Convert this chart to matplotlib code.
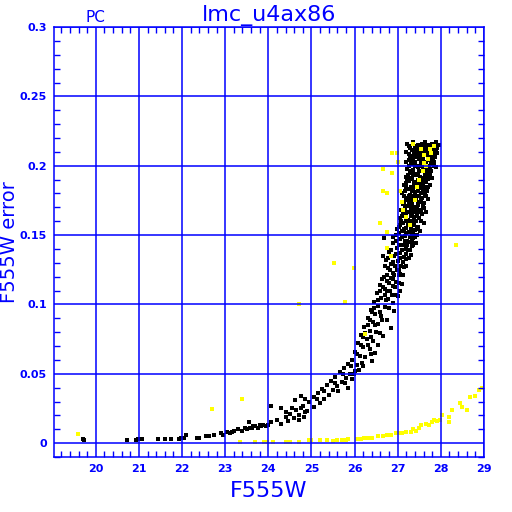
import matplotlib
matplotlib.use("Agg")
import matplotlib.pyplot as plt
from matplotlib.ticker import MultipleLocator, FixedLocator, FixedFormatter

# ---------------- data ----------------
title = "lmc_u4ax86"
corner_label = "PC"
x_label = "F555W"
y_label = "F555W error"

x_ticks = [20, 21, 22, 23, 24, 25, 26, 27, 28, 29]
x_tick_labels = ["20", "21", "22", "23", "24", "25", "26", "27", "28", "29"]
y_ticks = [0, 0.05, 0.1, 0.15, 0.2, 0.25, 0.3]
y_tick_labels = ["0", "0.05", "0.1", "0.15", "0.2", "0.25", "0.3"]

# black points (magnitude, error)
black_pts = [
    (27.22, 0.216), (27.35, 0.217), (27.48, 0.215), (27.56, 0.216), (27.63, 0.217), (27.72, 0.215), (27.80, 0.216), (27.88, 0.217), (27.95, 0.215),
    (27.28, 0.213), (27.42, 0.212), (27.52, 0.214), (27.60, 0.213), (27.68, 0.212), (27.76, 0.213), (27.85, 0.212), (27.92, 0.213),
    (27.20, 0.210), (27.38, 0.209), (27.46, 0.211), (27.58, 0.210), (27.66, 0.209), (27.74, 0.210), (27.82, 0.211), (27.90, 0.209),
    (27.32, 0.207), (27.44, 0.206), (27.54, 0.207), (27.62, 0.208), (27.70, 0.206), (27.79, 0.207), (27.87, 0.206),
    (27.25, 0.204), (27.40, 0.203), (27.50, 0.205), (27.57, 0.204), (27.65, 0.203), (27.73, 0.204), (27.84, 0.203),
    (27.30, 0.201), (27.45, 0.200), (27.53, 0.202), (27.61, 0.201), (27.69, 0.200), (27.78, 0.201),
    (27.22, 0.198), (27.36, 0.197), (27.48, 0.199), (27.59, 0.198), (27.67, 0.197), (27.75, 0.198), (27.88, 0.199),
    (27.33, 0.195), (27.43, 0.194), (27.55, 0.196), (27.63, 0.195), (27.72, 0.194),
    (27.18, 0.192), (27.29, 0.191), (27.40, 0.193), (27.51, 0.192), (27.60, 0.191), (27.68, 0.192), (27.80, 0.191),
    (27.27, 0.189), (27.38, 0.188), (27.47, 0.190), (27.56, 0.189), (27.65, 0.188),
    (27.15, 0.186), (27.32, 0.185), (27.44, 0.187), (27.52, 0.186), (27.62, 0.185), (27.74, 0.186),
    (27.24, 0.183), (27.36, 0.182), (27.49, 0.184), (27.58, 0.183), (27.67, 0.182),
    (27.10, 0.180), (27.28, 0.179), (27.41, 0.181), (27.54, 0.180), (27.63, 0.179),
    (27.20, 0.177), (27.34, 0.176), (27.46, 0.178), (27.57, 0.177), (27.70, 0.176),
    (27.14, 0.174), (27.30, 0.173), (27.43, 0.175), (27.52, 0.174), (27.61, 0.173),
    (27.22, 0.171), (27.37, 0.170), (27.48, 0.172), (27.58, 0.171),
    (27.08, 0.168), (27.26, 0.167), (27.40, 0.169), (27.53, 0.168), (27.66, 0.167),
    (27.18, 0.165), (27.33, 0.164), (27.45, 0.166), (27.56, 0.165),
    (27.05, 0.162), (27.24, 0.161), (27.38, 0.163), (27.50, 0.162),
    (27.12, 0.159), (27.29, 0.158), (27.42, 0.160), (27.60, 0.159),
    (27.02, 0.156), (27.20, 0.155), (27.35, 0.157), (27.47, 0.156),
    (27.10, 0.153), (27.26, 0.152), (27.40, 0.154), (27.52, 0.153),
    (26.95, 0.150), (27.16, 0.149), (27.32, 0.151), (27.44, 0.150),
    (27.05, 0.147), (27.22, 0.146), (27.36, 0.148), (26.68, 0.148),
    (26.88, 0.144), (27.12, 0.143), (27.28, 0.145), (27.42, 0.144),
    (26.98, 0.141), (27.18, 0.140), (27.33, 0.142),
    (26.80, 0.138), (27.06, 0.137), (27.24, 0.139),
    (26.92, 0.135), (27.14, 0.134), (27.30, 0.136), (26.66, 0.135),
    (26.72, 0.132), (27.00, 0.131), (27.20, 0.133),
    (26.85, 0.129), (27.08, 0.128),
    (26.78, 0.126), (26.98, 0.125), (27.15, 0.127),
    (26.90, 0.123), (27.06, 0.122),
    (26.68, 0.120), (26.84, 0.119), (27.02, 0.121),
    (26.75, 0.117), (26.96, 0.116),
    (26.60, 0.114), (26.88, 0.113), (27.10, 0.115),
    (26.70, 0.111), (26.82, 0.110),
    (26.52, 0.108), (26.95, 0.107),
    (26.62, 0.105), (26.78, 0.104), (27.00, 0.106),
    (26.45, 0.102), (26.88, 0.101),
    (26.55, 0.099), (26.70, 0.098),
    (26.38, 0.096), (26.92, 0.095),
    (26.48, 0.093), (26.62, 0.092),
    (26.30, 0.090), (26.75, 0.089),
    (26.42, 0.087), (26.55, 0.086),
    (26.22, 0.084), (26.85, 0.083),
    (26.35, 0.081), (26.50, 0.080),
    (26.15, 0.078), (26.65, 0.077),
    (26.28, 0.075), (26.42, 0.074),
    (26.08, 0.072), (26.55, 0.071),
    (26.20, 0.069), (26.35, 0.068),
    (26.00, 0.066), (26.48, 0.065),
    (26.12, 0.063), (26.25, 0.062),
    (25.95, 0.060), (26.40, 0.059),
    (25.85, 0.057), (26.05, 0.056), (26.18, 0.058),
    (25.75, 0.054), (26.10, 0.053),
    (25.65, 0.051), (25.90, 0.050), (26.02, 0.052),
    (25.55, 0.048), (25.80, 0.047),
    (25.45, 0.045), (25.70, 0.044), (25.95, 0.046),
    (25.35, 0.042), (25.60, 0.041),
    (25.25, 0.039), (25.50, 0.038), (25.85, 0.040),
    (25.15, 0.036), (25.40, 0.035),
    (25.05, 0.033), (25.30, 0.032), (24.75, 0.034),
    (24.95, 0.030), (25.20, 0.029), (24.62, 0.031),
    (24.80, 0.027), (25.05, 0.026), (24.05, 0.027),
    (24.65, 0.024), (24.90, 0.023), (24.30, 0.025),
    (24.50, 0.021), (24.72, 0.020),
    (24.40, 0.019), (24.60, 0.018), (24.82, 0.019),
    (24.20, 0.017), (24.45, 0.016), (24.70, 0.017),
    (24.05, 0.015), (24.30, 0.014), (23.55, 0.015),
    (23.80, 0.013), (24.00, 0.013), (23.70, 0.012), (23.88, 0.013), (23.95, 0.012),
    (23.65, 0.012), (23.75, 0.011), (23.82, 0.012), (23.58, 0.011),
    (23.45, 0.011), (23.50, 0.010), (23.62, 0.011),
    (23.30, 0.010), (23.40, 0.009),
    (23.20, 0.009), (23.15, 0.008),
    (23.05, 0.008), (23.10, 0.007),
    (22.90, 0.007), (22.95, 0.006),
    (22.75, 0.006), (22.08, 0.006),
    (22.55, 0.005), (22.62, 0.005),
    (22.35, 0.004), (22.40, 0.004), (22.05, 0.004), (21.98, 0.004),
    (21.93, 0.003), (21.75, 0.003), (21.60, 0.003), (21.45, 0.003), (21.06, 0.003), (20.98, 0.003), (19.70, 0.003),
    (20.93, 0.002), (20.72, 0.002), (19.72, 0.002),
    # additional points in the dense faint-end cluster
    (27.25, 0.2145), (27.40, 0.2145), (27.52, 0.2145), (27.66, 0.2145), (27.78, 0.2145), (27.91, 0.2145),
    (27.32, 0.2115), (27.50, 0.2115), (27.64, 0.2115), (27.80, 0.2115), (27.88, 0.2115),
    (27.26, 0.2085), (27.40, 0.2085), (27.50, 0.2085), (27.70, 0.2085), (27.84, 0.2085),
    (27.28, 0.2055), (27.36, 0.2055), (27.58, 0.2055), (27.75, 0.2055), (27.82, 0.2055),
    (27.20, 0.2025), (27.35, 0.2025), (27.55, 0.2025), (27.64, 0.2025), (27.80, 0.2025),
    (27.26, 0.1995), (27.40, 0.1995), (27.57, 0.1995), (27.72, 0.1995), (27.84, 0.1995),
    (27.28, 0.1965), (27.50, 0.1965), (27.60, 0.1965), (27.78, 0.1965),
    (27.24, 0.1935), (27.36, 0.1935), (27.46, 0.1935), (27.64, 0.1935), (27.74, 0.1935),
    (27.22, 0.1905), (27.34, 0.1905), (27.52, 0.1905), (27.70, 0.1905),
    (27.20, 0.1875), (27.38, 0.1875), (27.48, 0.1875), (27.58, 0.1875),
    (27.18, 0.1845), (27.30, 0.1845), (27.40, 0.1845), (27.54, 0.1845), (27.70, 0.1845),
    (27.16, 0.1815), (27.32, 0.1815), (27.46, 0.1815), (27.60, 0.1815),
    (27.14, 0.1785), (27.25, 0.1785), (27.38, 0.1785), (27.50, 0.1785), (27.66, 0.1785),
    (27.24, 0.1755), (27.40, 0.1755), (27.55, 0.1755),
    (27.12, 0.1725), (27.26, 0.1725), (27.34, 0.1725), (27.46, 0.1725),
    (27.16, 0.1695), (27.30, 0.1695), (27.44, 0.1695), (27.62, 0.1695),
    (27.12, 0.1665), (27.22, 0.1665), (27.36, 0.1665), (27.50, 0.1665),
    (27.10, 0.1635), (27.30, 0.1635), (27.44, 0.1635),
    (27.08, 0.1605), (27.18, 0.1605), (27.34, 0.1605), (27.55, 0.1605),
    (27.06, 0.1575), (27.24, 0.1575), (27.38, 0.1575),
    (26.98, 0.1545), (27.14, 0.1545), (27.30, 0.1545), (27.45, 0.1545),
    (27.04, 0.1515), (27.20, 0.1515), (27.36, 0.1515),
    (26.90, 0.1485), (27.10, 0.1485), (27.28, 0.1485), (27.40, 0.1485),
    (26.95, 0.1455), (27.16, 0.1455), (27.32, 0.1455),
    (27.04, 0.1425), (27.22, 0.1425), (27.36, 0.1425),
    (26.85, 0.1395), (27.10, 0.1395), (27.28, 0.1395),
    (26.96, 0.1365), (27.20, 0.1365),
    (26.78, 0.1335), (27.06, 0.1335), (27.26, 0.1335),
    (26.90, 0.1305), (27.12, 0.1305),
    (26.70, 0.1275), (26.94, 0.1275), (27.18, 0.1275),
    (26.82, 0.1245), (27.02, 0.1245),
    (26.76, 0.1215), (26.92, 0.1215), (27.12, 0.1215),
    (26.64, 0.1185), (26.90, 0.1185),
    (26.80, 0.1155), (27.04, 0.1155),
    (26.66, 0.1125), (26.94, 0.1125),
    (26.58, 0.1095), (26.76, 0.1095), (27.05, 0.1095),
    (26.70, 0.1065), (26.86, 0.1065),
    (26.54, 0.1035), (26.72, 0.1035),
    (26.46, 0.0975), (26.80, 0.0975),
    (26.58, 0.0945), (26.40, 0.0945),
    (26.36, 0.0885), (26.64, 0.0885),
    (26.30, 0.0855), (26.48, 0.0855),
    (26.25, 0.0795), (26.58, 0.0795),
    (26.20, 0.0765), (26.38, 0.0765),
    (26.14, 0.0705), (26.30, 0.0705),
    (26.05, 0.0645), (26.38, 0.0645),
    (25.92, 0.0555), (26.20, 0.0555),
    (25.72, 0.0495), (25.98, 0.0495),
    (25.55, 0.0435), (25.78, 0.0435),
    (25.30, 0.0375), (25.62, 0.0375),
    (25.12, 0.0315), (24.85, 0.0315),
    (24.75, 0.0255), (24.55, 0.0255),
    (24.40, 0.0225), (24.85, 0.0225),
]

# yellow points (magnitude, error)
yellow_pts = [
    (23.35, 0.001), (23.70, 0.001), (23.90, 0.001), (23.97, 0.001), (24.10, 0.001), (24.40, 0.001),
    (24.50, 0.001), (24.70, 0.001), (24.95, 0.002), (25.00, 0.002), (25.20, 0.002), (25.35, 0.002),
    (25.50, 0.0015), (25.60, 0.002), (25.70, 0.002), (25.80, 0.002), (25.85, 0.003), (26.05, 0.003),
    (26.10, 0.003), (26.15, 0.003), (26.22, 0.004), (26.30, 0.004), (26.40, 0.004), (26.55, 0.005),
    (26.65, 0.005), (26.75, 0.006), (26.85, 0.006), (26.95, 0.007), (27.05, 0.007), (27.10, 0.007),
    (27.20, 0.008), (27.30, 0.008), (27.35, 0.010), (27.42, 0.009), (27.50, 0.011), (27.55, 0.013),
    (27.65, 0.014), (27.72, 0.013), (27.80, 0.015), (27.85, 0.017), (27.92, 0.016), (27.98, 0.017),
    (28.02, 0.020), (28.18, 0.019), (28.20, 0.015), (28.26, 0.024), (28.45, 0.029), (28.50, 0.026),
    (28.60, 0.024), (28.68, 0.033), (28.78, 0.034), (28.88, 0.038), (28.95, 0.040),
    (19.58, 0.0065), (22.69, 0.0245), (23.40, 0.032),
    (25.52, 0.130), (25.98, 0.126), (25.78, 0.102), (24.71, 0.100), (26.24, 0.079), (28.35, 0.143),
    (26.66, 0.198), (26.87, 0.209), (26.98, 0.209), (26.87, 0.195), (26.66, 0.182), (26.75, 0.180),
    (26.60, 0.159), (26.75, 0.152), (26.75, 0.141), (26.84, 0.135), (27.00, 0.203), (27.05, 0.182),
    (27.10, 0.174), (27.12, 0.168), (27.20, 0.163), (27.28, 0.157), (27.35, 0.216),
    (27.55, 0.212), (27.62, 0.208), (27.70, 0.205), (27.66, 0.200), (27.58, 0.196), (27.74, 0.212),
    (27.50, 0.190), (27.45, 0.185), (27.60, 0.202), (27.78, 0.209), (27.40, 0.175), (27.85, 0.214),
]

black_x = [p[0] for p in black_pts]
black_y = [p[1] for p in black_pts]
yellow_x = [p[0] for p in yellow_pts]
yellow_y = [p[1] for p in yellow_pts]

# ---------------- drawing ----------------
BLUE = "#0000ff"
fig = plt.figure(figsize=(5.12, 5.12), dpi=100)
ax = fig.add_axes([0.1055, 0.1074, 0.8398, 0.8398])

ax.scatter(black_x, black_y, s=5, marker="s", c="black", linewidths=0)
ax.scatter(yellow_x, yellow_y, s=5, marker="s", c="#ffff00", linewidths=0)

ax.set_xlim(19.03, 29)
ax.set_ylim(-0.01, 0.3)

ax.xaxis.set_major_locator(FixedLocator(x_ticks))
ax.xaxis.set_major_formatter(FixedFormatter(x_tick_labels))
ax.yaxis.set_major_locator(FixedLocator(y_ticks))
ax.yaxis.set_major_formatter(FixedFormatter(y_tick_labels))
ax.xaxis.set_minor_locator(MultipleLocator(0.2))
ax.yaxis.set_minor_locator(MultipleLocator(0.01))

ax.grid(True, which="major", color=BLUE, linewidth=1.1)
for s in ax.spines.values():
    s.set_color(BLUE)
    s.set_linewidth(1.1)

ax.tick_params(which="both", direction="in", top=True, right=True, colors=BLUE)
ax.tick_params(which="major", length=0, labelsize=8, pad=5)
ax.tick_params(which="minor", length=4, width=1.0)
for lab in ax.get_xticklabels() + ax.get_yticklabels():
    lab.set_fontweight("bold")
    lab.set_color(BLUE)

ax.set_xlabel(x_label, color=BLUE, fontsize=16, labelpad=5)
ax.set_ylabel(y_label, color=BLUE, fontsize=14)
ax.yaxis.set_label_coords(-0.1055 + 10 / 430.0, 0.5)
ax.set_title(title, color=BLUE, fontsize=16, pad=4)
ax.text(20, 1.005, corner_label, transform=ax.get_xaxis_transform(),
        color=BLUE, fontsize=11, ha="center", va="bottom")

fig.savefig("out.png", dpi=100, facecolor="white")
